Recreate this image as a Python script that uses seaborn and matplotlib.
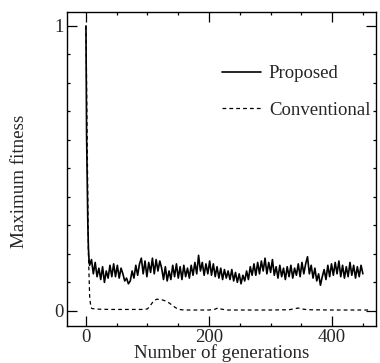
import matplotlib
matplotlib.use("Agg")
import matplotlib.pyplot as plt
import seaborn as sns
import pandas as pd
import numpy as np
from matplotlib.ticker import MultipleLocator

# Proposed method: fast initial drop, then noisy plateau
head_gens = [0, 1, 2, 3, 4, 5, 6]
head_vals = [1.0, 0.62, 0.45, 0.31, 0.22, 0.18, 0.16]
tail_gens = list(range(9, 451, 3))
tail_vals = [
    0.18, 0.13, 0.17, 0.12,
    0.15, 0.11, 0.155, 0.10, 0.14, 0.115, 0.16, 0.12,
    0.165, 0.12, 0.16, 0.115, 0.15,
    0.13, 0.105, 0.115, 0.095, 0.105,
    0.14, 0.115, 0.16, 0.125, 0.165,
    0.185, 0.13, 0.175, 0.12, 0.17,
    0.135, 0.185, 0.13, 0.18, 0.14, 0.175,
    0.15, 0.11, 0.155, 0.105, 0.14, 0.11,
    0.16, 0.12, 0.165, 0.115, 0.155, 0.11, 0.16, 0.12, 0.15,
    0.115, 0.16, 0.125, 0.17, 0.13, 0.195,
    0.14, 0.17, 0.125, 0.165, 0.13,
    0.175, 0.125, 0.165, 0.12, 0.155,
    0.115, 0.15, 0.11, 0.145, 0.115, 0.14, 0.11, 0.145, 0.105, 0.135, 0.10, 0.13, 0.095, 0.125,
    0.105, 0.14, 0.11, 0.155, 0.125,
    0.165, 0.125, 0.17, 0.13, 0.175, 0.14, 0.185, 0.13, 0.17, 0.135, 0.18,
    0.125, 0.155, 0.115, 0.16, 0.12, 0.15, 0.11, 0.155, 0.12, 0.16, 0.115, 0.15, 0.125,
    0.165, 0.12, 0.17, 0.13, 0.165, 0.19, 0.13,
    0.16, 0.115, 0.15, 0.105, 0.13, 0.09, 0.12,
    0.145, 0.11, 0.16, 0.12, 0.165, 0.125, 0.17, 0.13, 0.175, 0.12, 0.16,
    0.115, 0.155, 0.12, 0.17, 0.125, 0.16, 0.115, 0.155, 0.12, 0.16, 0.13,
]
prop_gens = head_gens + tail_gens
prop_vals = head_vals + tail_vals

# Conventional method
conv_gens = [0, 2, 4, 6, 8, 10, 20, 40, 60, 80, 95, 100, 105, 110, 115, 120,
             125, 130, 135, 140, 145, 150, 155, 160, 200, 210, 215, 220, 230,
             300, 330, 340, 345, 350, 360, 400, 460]
conv_vals = [1.0, 0.6, 0.2, 0.05, 0.012, 0.008, 0.006, 0.005, 0.005, 0.005,
             0.005, 0.007, 0.02, 0.035, 0.041, 0.04, 0.038, 0.034, 0.028, 0.02,
             0.012, 0.006, 0.004, 0.003, 0.003, 0.006, 0.011, 0.006, 0.003,
             0.003, 0.004, 0.008, 0.01, 0.007, 0.004, 0.003, 0.003]

df_prop = pd.DataFrame({'gen': prop_gens, 'fit': prop_vals})
df_conv = pd.DataFrame({'gen': conv_gens, 'fit': conv_vals})

sns.set_style('ticks')
plt.rcParams['font.family'] = ['Liberation Serif', 'DejaVu Serif']

fig = plt.figure(figsize=(3.8, 3.63), dpi=100)
ax = fig.add_axes([0.176, 0.102, 0.813, 0.865])

sns.lineplot(data=df_prop, x='gen', y='fit', ax=ax, color='black', lw=1.2,
             label='Proposed')
sns.lineplot(data=df_conv, x='gen', y='fit', ax=ax, color='black', lw=0.9,
             linestyle=(0, (3, 2.5)), label='Conventional')

ax.set_xlim(-31, 471)
ax.set_ylim(-0.053, 1.049)
ax.set_xticks([0, 200, 400])
ax.set_yticks([0, 1])
ax.set_yticklabels(['0', '1'])
ax.xaxis.set_minor_locator(MultipleLocator(50))
ax.yaxis.set_minor_locator(MultipleLocator(0.1))
ax.tick_params(which='both', direction='in', top=True, right=True,
               labelsize=13.5, color='black', pad=2)
ax.tick_params(which='major', length=7, width=0.9)
ax.tick_params(which='minor', length=2.5, width=0.9)
for s in ax.spines.values():
    s.set_linewidth(1.0)
    s.set_color('black')

ax.set_xlabel('Number of generations', fontsize=13.7, labelpad=-1)
ax.set_ylabel('Maximum fitness', fontsize=13.7)
ax.yaxis.set_label_coords(-0.127, 0.46)

ax.legend(loc='upper right', bbox_to_anchor=(1.037, 0.885), frameon=False,
          fontsize=13.5, handlelength=2.1, handletextpad=0.4, labelspacing=1.05)

fig.savefig('out.png', dpi=100)
